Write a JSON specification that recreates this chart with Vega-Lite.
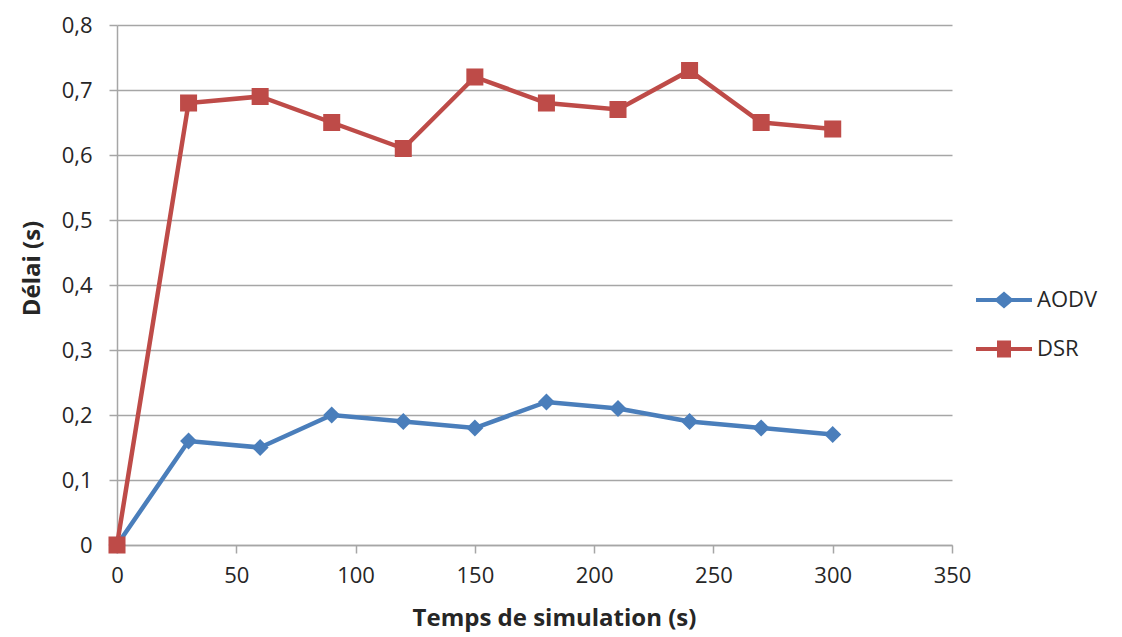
{
  "$schema": "https://vega.github.io/schema/vega-lite/v6.json",
  "width": 835,
  "height": 520,
  "autosize": {"type": "none"},
  "padding": {"left": 117, "top": 25, "right": 170, "bottom": 92},
  "background": "white",
  "config": {
    "view": {"stroke": null},
    "font": "Open Sans",
    "axis": {
      "labelFont": "Open Sans",
      "labelFontSize": 22,
      "labelColor": "#262626",
      "titleFont": "Open Sans",
      "titleFontSize": 24,
      "titleFontWeight": "bold",
      "titleColor": "#262626",
      "domainColor": "#a6a6a6",
      "domainWidth": 1.5,
      "tickColor": "#a6a6a6",
      "tickWidth": 1.5,
      "tickSize": 8,
      "gridColor": "#a6a6a6",
      "gridWidth": 1.5,
      "labelFlush": false
    },
    "legend": {
      "labelFont": "Open Sans",
      "labelFontSize": 22,
      "labelColor": "#262626",
      "symbolOpacity": 1
    }
  },
  "data": {
    "values": [
      {"t": 0, "v": 0, "series": "AODV"},
      {"t": 30, "v": 0.16, "series": "AODV"},
      {"t": 60, "v": 0.15, "series": "AODV"},
      {"t": 90, "v": 0.20, "series": "AODV"},
      {"t": 120, "v": 0.19, "series": "AODV"},
      {"t": 150, "v": 0.18, "series": "AODV"},
      {"t": 180, "v": 0.22, "series": "AODV"},
      {"t": 210, "v": 0.21, "series": "AODV"},
      {"t": 240, "v": 0.19, "series": "AODV"},
      {"t": 270, "v": 0.18, "series": "AODV"},
      {"t": 300, "v": 0.17, "series": "AODV"},
      {"t": 0, "v": 0, "series": "DSR"},
      {"t": 30, "v": 0.68, "series": "DSR"},
      {"t": 60, "v": 0.69, "series": "DSR"},
      {"t": 90, "v": 0.65, "series": "DSR"},
      {"t": 120, "v": 0.61, "series": "DSR"},
      {"t": 150, "v": 0.72, "series": "DSR"},
      {"t": 180, "v": 0.68, "series": "DSR"},
      {"t": 210, "v": 0.67, "series": "DSR"},
      {"t": 240, "v": 0.73, "series": "DSR"},
      {"t": 270, "v": 0.65, "series": "DSR"},
      {"t": 300, "v": 0.64, "series": "DSR"}
    ]
  },
  "encoding": {
    "x": {
      "field": "t",
      "type": "quantitative",
      "scale": {"domain": [0, 350], "nice": false, "zero": true},
      "axis": {
        "title": "Temps de simulation (s)",
        "values": [0, 50, 100, 150, 200, 250, 300, 350],
        "grid": false,
        "labelPadding": 12,
        "titleBaseline": "middle",
        "titleAlign": "center",
        "titleX": 437,
        "titleY": 73
      }
    },
    "y": {
      "field": "v",
      "type": "quantitative",
      "scale": {"domain": [0, 0.8], "nice": false},
      "axis": {
        "title": "Délai (s)",
        "values": [0, 0.1, 0.2, 0.3, 0.4, 0.5, 0.6, 0.7, 0.8],
        "labelExpr": "replace(format(datum.value, '.1~f'), '.', ',')",
        "grid": true,
        "labelPadding": 17,
        "titleBaseline": "middle",
        "titleX": -85,
        "titleY": 243
      }
    }
  },
  "layer": [
    {
      "mark": {"type": "line", "strokeWidth": 4.5},
      "encoding": {
        "color": {
          "field": "series",
          "type": "nominal",
          "scale": {"domain": ["AODV", "DSR"], "range": ["#4a7ebb", "#be4b48"]},
          "legend": null
        }
      }
    },
    {
      "mark": {"type": "point", "filled": true, "opacity": 1, "size": 290},
      "encoding": {
        "color": {
          "field": "series",
          "type": "nominal",
          "scale": {"domain": ["AODV", "DSR"], "range": ["#4a7ebb", "#be4b48"]},
          "legend": null
        },
        "shape": {
          "field": "series",
          "type": "nominal",
          "scale": {"domain": ["AODV", "DSR"], "range": ["diamond", "square"]},
          "legend": null
        }
      }
    },
    {
      "mark": {"type": "point", "filled": true, "opacity": 1},
      "encoding": {
        "size": {"value": 0},
        "color": {
          "field": "series",
          "type": "nominal",
          "scale": {"domain": ["AODV", "DSR"], "range": ["#4a7ebb", "#be4b48"]},
          "legend": {
            "title": null,
            "orient": "none",
            "legendX": 859,
            "legendY": 247,
            "symbolSize": 3136,
            "symbolStrokeWidth": 0,
            "symbolOpacity": 1,
            "rowPadding": 10,
            "labelOffset": 5,
            "padding": 0
          }
        },
        "shape": {
          "field": "series",
          "type": "nominal",
          "scale": {
            "domain": ["AODV", "DSR"],
            "range": [
              "M-1,-0.075H-0.27L0,-0.3L0.27,-0.075H1V0.075H0.27L0,0.3L-0.27,0.075H-1Z",
              "M-1,-0.075H-0.25V-0.3H0.25V-0.075H1V0.075H0.25V0.3H-0.25V0.075H-1Z"
            ]
          },
          "legend": {
            "title": null,
            "orient": "none",
            "legendX": 859,
            "legendY": 247,
            "symbolSize": 3136,
            "symbolStrokeWidth": 0,
            "symbolOpacity": 1,
            "rowPadding": 10,
            "labelOffset": 5,
            "padding": 0
          }
        }
      }
    }
  ],
  "resolve": {"scale": {"shape": "independent", "color": "independent"}}
}
